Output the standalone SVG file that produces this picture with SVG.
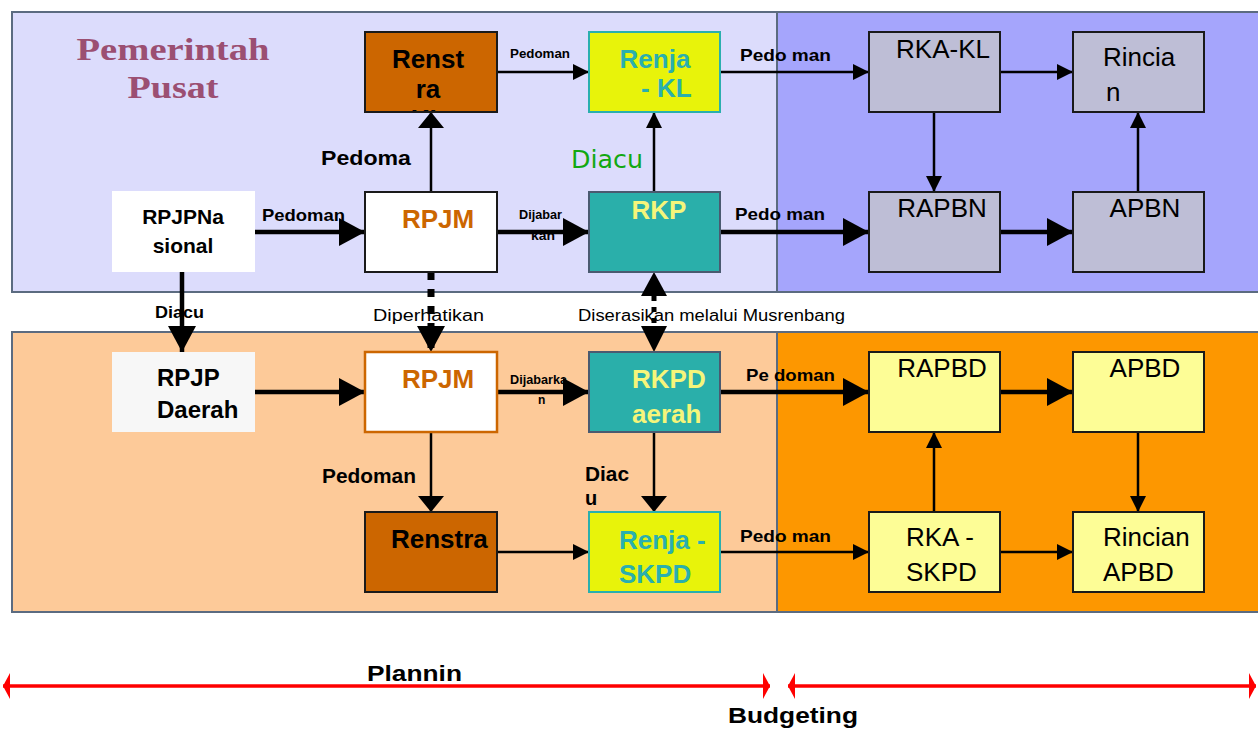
<svg xmlns="http://www.w3.org/2000/svg" width="1258" height="729" viewBox="0 0 1258 729">
<style>
.panel{stroke:#5b6b80;stroke-width:2}
.box{stroke:#1a1a1a;stroke-width:2}
.nt{font-family:"Liberation Sans",Arial,sans-serif;font-size:26px}
.b{font-weight:bold}
.lbl{font-family:"Liberation Sans",Arial,sans-serif;font-weight:bold;fill:#000}
.lr{font-family:"Liberation Sans",Arial,sans-serif;fill:#000}
.c{stroke:#000;fill:none}
.thick{stroke-width:4.5}
.thin{stroke-width:2.5}
.red{stroke:#ff0000;stroke-width:3.5;fill:none}
</style>
<defs>
<marker id="big" markerUnits="userSpaceOnUse" markerWidth="26" markerHeight="28" refX="26" refY="14" orient="auto"><path d="M0,0 L26,14 L0,28 z" fill="#000"/></marker>
<marker id="wide" markerUnits="userSpaceOnUse" markerWidth="16" markerHeight="26" refX="16" refY="13" orient="auto"><path d="M0,0 L16,13 L0,26 z" fill="#000"/></marker>
<marker id="med" markerUnits="userSpaceOnUse" markerWidth="16" markerHeight="16" refX="16" refY="8" orient="auto"><path d="M0,0 L16,8 L0,16 z" fill="#000"/></marker>
<marker id="redh" markerUnits="userSpaceOnUse" markerWidth="8" markerHeight="28" refX="7" refY="14" orient="auto-start-reverse"><path d="M0,1 L7,14 L0,27 z" fill="#ff0000"/></marker>
<clipPath id="clipRKL"><rect x="366" y="33" width="130" height="78"/></clipPath>
</defs>

<g id="panels">
<rect class="panel" x="12" y="12" width="765" height="280" fill="#dcdcfc"/>
<rect class="panel" x="777" y="12" width="482" height="280" fill="#a5a5fc"/>
<rect class="panel" x="12" y="332" width="765" height="280" fill="#fdca99"/>
<rect class="panel" x="777" y="332" width="482" height="280" fill="#fd9700"/>
</g>

<g id="title">
<text x="173" y="60" text-anchor="middle" font-family="'Liberation Serif','Times New Roman',serif" font-weight="bold" font-size="31" fill="#9b4f72" textLength="193" lengthAdjust="spacingAndGlyphs">Pemerintah</text>
<text x="173" y="98" text-anchor="middle" font-family="'Liberation Serif','Times New Roman',serif" font-weight="bold" font-size="31" fill="#9b4f72" textLength="91" lengthAdjust="spacingAndGlyphs">Pusat</text>
</g>

<g id="labels">
<text class="lbl" x="262" y="221" font-size="17" textLength="83" lengthAdjust="spacingAndGlyphs">Pedoman</text>
<text class="lbl" x="321" y="165" font-size="20" textLength="90" lengthAdjust="spacingAndGlyphs">Pedoma</text>
<text class="lbl" x="510" y="58" font-size="13" textLength="60" lengthAdjust="spacingAndGlyphs">Pedoman</text>
<text class="lbl" x="519" y="219" font-size="12" textLength="43" lengthAdjust="spacingAndGlyphs">Dijabar</text>
<text class="lbl" x="531" y="240" font-size="12" textLength="24" lengthAdjust="spacingAndGlyphs">kan</text>
<text x="571" y="168" font-family="'DejaVu Sans',Verdana,sans-serif" font-size="24" fill="#12a812" textLength="72" lengthAdjust="spacingAndGlyphs">Diacu</text>
<text class="lbl" x="740" y="61" font-size="17" textLength="91" lengthAdjust="spacingAndGlyphs">Pedo man</text>
<text class="lbl" x="735" y="220" font-size="17" textLength="90" lengthAdjust="spacingAndGlyphs">Pedo man</text>
<text class="lbl" x="155" y="318" font-size="16" textLength="49" lengthAdjust="spacingAndGlyphs">Diacu</text>
<text class="lr" x="373" y="321" font-size="16" textLength="111" lengthAdjust="spacingAndGlyphs">Diperhatikan</text>
<text class="lr" x="578" y="321" font-size="16" textLength="267" lengthAdjust="spacingAndGlyphs">Diserasikan melalui Musrenbang</text>
<text class="lbl" x="510" y="384" font-size="12" textLength="57" lengthAdjust="spacingAndGlyphs">Dijabarka</text>
<text class="lbl" x="538" y="404" font-size="12">n</text>
<text class="lbl" x="746" y="381" font-size="17" textLength="89" lengthAdjust="spacingAndGlyphs">Pe doman</text>
<text class="lbl" x="322" y="483" font-size="20" textLength="94" lengthAdjust="spacingAndGlyphs">Pedoman</text>
<text class="lbl" x="585" y="481" font-size="20" textLength="44" lengthAdjust="spacingAndGlyphs">Diac</text>
<text class="lbl" x="585" y="505" font-size="20">u</text>
<text class="lbl" x="740" y="542" font-size="17" textLength="91" lengthAdjust="spacingAndGlyphs">Pedo man</text>
</g>

<g id="connectors">
<line class="c thick" x1="255" y1="232" x2="365" y2="232" marker-end="url(#big)"/>
<line class="c thin" x1="431" y1="192" x2="431" y2="112" marker-end="url(#wide)"/>
<line class="c thin" x1="497" y1="72" x2="589" y2="72" marker-end="url(#med)"/>
<line class="c thick" x1="497" y1="232" x2="589" y2="232" marker-end="url(#big)"/>
<line class="c thin" x1="654" y1="192" x2="654" y2="112" marker-end="url(#med)"/>
<line class="c thin" x1="720" y1="72" x2="869" y2="72" marker-end="url(#med)"/>
<line class="c thick" x1="720" y1="232" x2="869" y2="232" marker-end="url(#big)"/>
<line class="c thin" x1="1000" y1="72" x2="1073" y2="72" marker-end="url(#med)"/>
<line class="c thin" x1="934" y1="112" x2="934" y2="192" marker-end="url(#med)"/>
<line class="c thick" x1="1000" y1="232" x2="1073" y2="232" marker-end="url(#big)"/>
<line class="c thin" x1="1138" y1="192" x2="1138" y2="112" marker-end="url(#med)"/>
<line class="c thick" x1="182" y1="272" x2="182" y2="352" marker-end="url(#big)"/>
<line class="c" stroke-width="7" stroke-dasharray="8 9" x1="431" y1="272" x2="431" y2="352" marker-end="url(#big)"/>
<line class="c" stroke-width="5" stroke-dasharray="5 6" x1="654" y1="296" x2="654" y2="328"/>
<path d="M654,272 L667,296 L641,296 z" fill="#000"/>
<path d="M654,352 L667,326 L641,326 z" fill="#000"/>
<line class="c thick" x1="255" y1="392" x2="365" y2="392" marker-end="url(#big)"/>
<line class="c thick" x1="497" y1="392" x2="589" y2="392" marker-end="url(#big)"/>
<line class="c thick" x1="720" y1="392" x2="869" y2="392" marker-end="url(#big)"/>
<line class="c thin" x1="431" y1="432" x2="431" y2="512" marker-end="url(#wide)"/>
<line class="c thin" x1="654" y1="432" x2="654" y2="512" marker-end="url(#wide)"/>
<line class="c thin" x1="497" y1="552" x2="589" y2="552" marker-end="url(#med)"/>
<line class="c thin" x1="720" y1="552" x2="869" y2="552" marker-end="url(#med)"/>
<line class="c thick" x1="1000" y1="392" x2="1073" y2="392" marker-end="url(#big)"/>
<line class="c thin" x1="934" y1="512" x2="934" y2="432" marker-end="url(#med)"/>
<line class="c thin" x1="1138" y1="432" x2="1138" y2="512" marker-end="url(#med)"/>
<line class="c thin" x1="1000" y1="552" x2="1073" y2="552" marker-end="url(#med)"/>
</g>

<g id="node-renstra-kl">
<rect class="box" x="365" y="32" width="132" height="80" fill="#cc6600"/>
<g clip-path="url(#clipRKL)">
<text class="nt b" x="428" y="68" text-anchor="middle" fill="#000">Renst</text>
<text class="nt b" x="428" y="98" text-anchor="middle" fill="#000">ra</text>
<text class="nt b" x="428" y="128" text-anchor="middle" fill="#000">KL</text>
</g>
</g>
<g id="node-renja-kl">
<rect x="589" y="32" width="131" height="80" fill="#e8f30a" stroke="#2aafae" stroke-width="2"/>
<text class="nt b" x="655" y="68" text-anchor="middle" fill="#2aafae">Renja</text>
<text class="nt b" x="641" y="97" fill="#2aafae">- KL</text>
</g>
<g id="node-rpjpn">
<rect x="112" y="191" width="143" height="81" fill="#ffffff"/>
<text class="nt b" x="183" y="224" text-anchor="middle" style="font-size:21px" fill="#000">RPJPNa</text>
<text class="nt b" x="183" y="253" text-anchor="middle" style="font-size:21px" fill="#000">sional</text>
</g>
<g id="node-rpjm-pusat">
<rect class="box" x="365" y="192" width="132" height="80" fill="#ffffff"/>
<text class="nt b" x="438" y="228" text-anchor="middle" fill="#cc6600">RPJM</text>
</g>
<g id="node-rkp">
<rect x="589" y="192" width="131" height="80" fill="#2aafaa" stroke="#4a5a70" stroke-width="2"/>
<text class="nt b" x="659" y="219" text-anchor="middle" fill="#f5f57a">RKP</text>
</g>
<g id="node-rka-kl">
<rect class="box" x="869" y="32" width="131" height="80" fill="#bebed6"/>
<text class="nt" x="943" y="58" text-anchor="middle" fill="#000">RKA-KL</text>
</g>
<g id="node-rincian">
<rect class="box" x="1073" y="32" width="131" height="80" fill="#bebed6"/>
<text class="nt" x="1103" y="66" fill="#000">Rincia</text>
<text class="nt" x="1106" y="101" fill="#000">n</text>
</g>
<g id="node-rapbn">
<rect class="box" x="869" y="192" width="131" height="80" fill="#bebed6"/>
<text class="nt" x="942" y="217" text-anchor="middle" fill="#000">RAPBN</text>
</g>
<g id="node-apbn">
<rect class="box" x="1073" y="192" width="131" height="80" fill="#bebed6"/>
<text class="nt" x="1145" y="217" text-anchor="middle" fill="#000">APBN</text>
</g>

<g id="node-rpjp-daerah">
<rect x="112" y="352" width="143" height="80" fill="#f7f7f7"/>
<text class="nt b" x="157" y="386" style="font-size:24px" fill="#000">RPJP</text>
<text class="nt b" x="157" y="418" style="font-size:24px" fill="#000">Daerah</text>
</g>
<g id="node-rpjm-daerah">
<rect x="365" y="352" width="132" height="80" fill="#ffffff" stroke="#cc6600" stroke-width="2.5"/>
<text class="nt b" x="438" y="388" text-anchor="middle" fill="#cc6600">RPJM</text>
</g>
<g id="node-rkpd">
<rect x="589" y="352" width="131" height="80" fill="#2aafaa" stroke="#4a5a70" stroke-width="2"/>
<text class="nt b" x="632" y="388" fill="#f5f57a">RKPD</text>
<text class="nt b" x="632" y="423" fill="#f5f57a">aerah</text>
</g>
<g id="node-renstra">
<rect class="box" x="365" y="512" width="132" height="80" fill="#cc6600"/>
<text class="nt b" x="391" y="548" fill="#000">Renstra</text>
</g>
<g id="node-renja-skpd">
<rect x="589" y="512" width="131" height="80" fill="#e8f30a" stroke="#2aafae" stroke-width="2"/>
<text class="nt b" x="619" y="549" fill="#2aafae">Renja -</text>
<text class="nt b" x="619" y="583" fill="#2aafae">SKPD</text>
</g>
<g id="node-rapbd">
<rect class="box" x="869" y="352" width="131" height="80" fill="#fdfd96"/>
<text class="nt" x="942" y="377" text-anchor="middle" fill="#000">RAPBD</text>
</g>
<g id="node-apbd">
<rect class="box" x="1073" y="352" width="131" height="80" fill="#fdfd96"/>
<text class="nt" x="1145" y="377" text-anchor="middle" fill="#000">APBD</text>
</g>
<g id="node-rka-skpd">
<rect class="box" x="869" y="512" width="131" height="80" fill="#fdfd96"/>
<text class="nt" x="906" y="546" fill="#000">RKA -</text>
<text class="nt" x="906" y="581" fill="#000">SKPD</text>
</g>
<g id="node-rincian-apbd">
<rect class="box" x="1073" y="512" width="131" height="80" fill="#fdfd96"/>
<text class="nt" x="1103" y="546" fill="#000">Rincian</text>
<text class="nt" x="1103" y="581" fill="#000">APBD</text>
</g>

<g id="timeline">
<line class="red" x1="3" y1="686" x2="770" y2="686" marker-start="url(#redh)" marker-end="url(#redh)"/>
<line class="red" x1="788" y1="686" x2="1256" y2="686" marker-start="url(#redh)" marker-end="url(#redh)"/>
<text class="lbl" x="367" y="681" font-size="22" textLength="95" lengthAdjust="spacingAndGlyphs">Plannin</text>
<text class="lbl" x="728" y="723" font-size="22" textLength="130" lengthAdjust="spacingAndGlyphs">Budgeting</text>
</g>
</svg>
